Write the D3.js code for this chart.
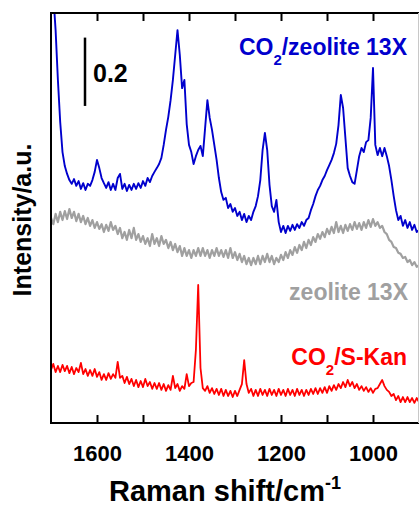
<!DOCTYPE html>
<html><head><meta charset="utf-8">
<script src="https://cdn.jsdelivr.net/npm/d3@7"></script>
<style>body{margin:0;background:#fff}svg{display:block}text{font-family:"Liberation Sans",Arial,sans-serif;font-weight:bold}</style>
</head><body><svg id="c" width="419" height="506"></svg>
<script>
// Raman shift (cm^-1)
const wavenumber = [
1700,1695,1690,1685,1680,1675,1670,1665,1660,1655,1650,1645,1640,1635,1630,1625,1620,1615,1610,1605,
1600,1595,1590,1585,1580,1575,1570,1565,1560,1555,1550,1545,1540,1535,1530,1525,1520,1515,1510,1505,
1500,1495,1490,1485,1480,1475,1470,1465,1460,1455,1450,1445,1440,1435,1430,1425,1420,1415,1410,1405,
1400,1395,1390,1385,1380,1375,1370,1365,1360,1355,1350,1345,1340,1335,1330,1325,1320,1315,1310,1305,
1300,1295,1290,1285,1280,1275,1270,1265,1260,1255,1250,1245,1240,1235,1230,1225,1220,1215,1210,1205,
1200,1195,1190,1185,1180,1175,1170,1165,1160,1155,1150,1145,1140,1135,1130,1125,1120,1115,1110,1105,
1100,1095,1090,1085,1080,1075,1070,1065,1060,1055,1050,1045,1040,1035,1030,1025,1020,1015,1010,1005,
1000,995,990,985,980,975,970,965,960,955,950,945,940,935,930,925,920,915,910,905,
900];
// Intensity (a.u., stacked with offsets as in the figure)
const co2Zeolite = [
1.355,1.253,1.150,1.004,0.881,0.793,0.752,0.729,0.711,0.700,0.714,0.694,0.708,0.685,0.702,0.682,0.700,0.694,0.711,0.735,
0.770,0.746,0.717,0.702,0.688,0.705,0.682,0.700,0.682,0.717,0.729,0.685,0.700,0.679,0.697,0.682,0.700,0.685,0.702,0.688,
0.708,0.694,0.717,0.705,0.723,0.735,0.746,0.758,0.776,0.814,0.858,0.896,0.945,1.004,1.077,1.150,1.077,0.980,1.004,0.875,
0.814,0.793,0.758,0.781,0.799,0.811,0.781,0.863,0.945,0.893,0.858,0.814,0.770,0.717,0.676,0.653,0.659,0.629,0.641,0.618,
0.629,0.606,0.618,0.594,0.612,0.588,0.606,0.594,0.618,0.635,0.664,0.711,0.799,0.849,0.799,0.697,0.635,0.618,0.653,0.588,
0.559,0.577,0.556,0.577,0.562,0.580,0.565,0.582,0.571,0.588,0.577,0.594,0.600,0.623,0.641,0.664,0.682,0.694,0.711,0.723,
0.740,0.755,0.770,0.790,0.817,0.872,0.960,0.922,0.834,0.746,0.723,0.705,0.700,0.740,0.781,0.805,0.793,0.822,0.828,0.893,
1.039,0.814,0.784,0.805,0.781,0.805,0.781,0.752,0.711,0.664,0.623,0.594,0.606,0.577,0.594,0.571,0.588,0.565,0.580,0.559,
0.565];
const zeolite13X = [
0.600,0.582,0.612,0.588,0.618,0.594,0.620,0.597,0.626,0.600,0.618,0.591,0.612,0.588,0.606,0.582,0.600,0.577,0.594,0.571,
0.588,0.568,0.582,0.559,0.580,0.562,0.588,0.565,0.577,0.553,0.571,0.541,0.559,0.536,0.565,0.541,0.571,0.536,0.553,0.530,
0.547,0.524,0.541,0.518,0.553,0.524,0.541,0.518,0.547,0.524,0.536,0.512,0.530,0.506,0.524,0.500,0.518,0.489,0.512,0.489,
0.506,0.483,0.506,0.489,0.512,0.489,0.512,0.489,0.506,0.483,0.506,0.489,0.512,0.489,0.506,0.486,0.506,0.483,0.512,0.483,
0.500,0.477,0.495,0.471,0.489,0.465,0.483,0.462,0.483,0.465,0.489,0.465,0.489,0.471,0.495,0.471,0.489,0.465,0.483,0.471,
0.492,0.477,0.500,0.483,0.506,0.492,0.515,0.498,0.521,0.506,0.530,0.512,0.536,0.521,0.544,0.530,0.553,0.539,0.559,0.544,
0.568,0.553,0.574,0.556,0.588,0.559,0.577,0.556,0.580,0.562,0.582,0.565,0.588,0.568,0.585,0.565,0.588,0.571,0.594,0.574,
0.597,0.577,0.588,0.571,0.577,0.559,0.553,0.536,0.530,0.515,0.512,0.498,0.495,0.483,0.486,0.471,0.477,0.462,0.471,0.457,
0.462];
const co2SKan = [
0.155,0.173,0.149,0.167,0.149,0.170,0.152,0.167,0.146,0.164,0.143,0.161,0.149,0.176,0.143,0.158,0.138,0.155,0.138,0.158,
0.135,0.149,0.126,0.143,0.126,0.146,0.129,0.143,0.132,0.179,0.132,0.138,0.117,0.135,0.114,0.129,0.108,0.126,0.105,0.123,
0.105,0.129,0.108,0.120,0.100,0.117,0.100,0.117,0.097,0.114,0.094,0.111,0.097,0.138,0.102,0.114,0.094,0.108,0.100,0.143,
0.108,0.117,0.120,0.214,0.404,0.161,0.102,0.094,0.108,0.088,0.102,0.085,0.100,0.082,0.100,0.079,0.097,0.079,0.094,0.076,
0.094,0.079,0.097,0.114,0.184,0.114,0.088,0.100,0.079,0.097,0.079,0.100,0.082,0.097,0.079,0.100,0.082,0.097,0.079,0.100,
0.082,0.097,0.079,0.100,0.082,0.097,0.079,0.100,0.082,0.097,0.079,0.097,0.082,0.100,0.085,0.102,0.085,0.102,0.088,0.105,
0.088,0.108,0.094,0.111,0.097,0.114,0.102,0.120,0.105,0.126,0.108,0.120,0.102,0.114,0.097,0.108,0.094,0.105,0.091,0.102,
0.088,0.100,0.102,0.114,0.126,0.108,0.097,0.091,0.079,0.085,0.067,0.079,0.061,0.076,0.061,0.076,0.061,0.073,0.059,0.073,
0.061];
const xTickValues = [1600,1500,1400,1300,1200,1100,1000];
const xTickLabels = [1600,1400,1200,1000];
const scaleBar = {from: 0.928, size: 0.2, label: "0.2"};

const svg = d3.select("#c");
const L = 51, R = 419, T = 13, B = 423;
const x = d3.scaleLinear().domain([1700, 900]).range([L, R]);
const y = d3.scaleLinear().domain([0, 1.2]).range([B, T]);

svg.append("defs").append("clipPath").attr("id","clip")
  .append("rect").attr("x",L).attr("y",T).attr("width",R-L).attr("height",B-T);

const series = [
  {vals: zeolite13X, color: "#a0a0a0", w: 2.2},
  {vals: co2SKan, color: "#ff0000", w: 1.8},
  {vals: co2Zeolite, color: "#0000cd", w: 1.9}
];
const line = d3.line().x((d,i)=>x(wavenumber[i])).y(d=>y(d));
const g = svg.append("g").attr("clip-path","url(#clip)");
series.forEach(s=>{
  g.append("path").datum(s.vals).attr("d", line)
   .attr("fill","none").attr("stroke", s.color).attr("stroke-width",s.w)
   .attr("stroke-linejoin","round");
});

// axes (ticks inward on top and bottom)
const fmt = d => xTickLabels.includes(d) ? d : "";
const axB = svg.append("g").attr("transform",`translate(0,${B})`)
  .call(d3.axisBottom(x).tickValues(xTickValues).tickSizeInner(-8).tickSizeOuter(0).tickFormat(fmt));
const axT = svg.append("g").attr("transform",`translate(0,${T})`)
  .call(d3.axisTop(x).tickValues(xTickValues).tickSizeInner(-8).tickSizeOuter(0).tickFormat(""));
[axB, axT].forEach(a=>{
  a.select(".domain").remove();
  a.selectAll(".tick line").attr("stroke","#000").attr("stroke-width",2);
});
axB.selectAll(".tick text").attr("y",38).attr("dy",0).attr("fill","#000")
  .style("font-size","22px").style("font-weight","bold").style("font-family",'"Liberation Sans",Arial,sans-serif');

// frame
svg.append("rect").attr("x",L).attr("y",T).attr("width",R-L+1).attr("height",B-T)
  .attr("fill","none").attr("stroke","#000").attr("stroke-width",2);
svg.append("line").attr("x1",418.5).attr("x2",418.5).attr("y1",T).attr("y2",B)
  .attr("stroke","#c8c8c8").attr("stroke-width",1);

// scale bar
svg.append("line").attr("x1",85).attr("x2",85)
  .attr("y1",y(scaleBar.from)).attr("y2",y(scaleBar.from+scaleBar.size))
  .attr("stroke","#000").attr("stroke-width",2.5);
svg.append("text").attr("x",93).attr("y",82).style("font-size","25px").text(scaleBar.label);

// series labels
function label(xp, yp, parts, color){
  const t = svg.append("text").attr("x",xp).attr("y",yp).attr("text-anchor","end")
    .attr("fill",color).style("font-size","23px");
  parts.forEach(p=>{
    const ts = t.append("tspan").text(p.t);
    if (p.sub) ts.attr("dy",10).style("font-size","15px");
    if (p.back) ts.attr("dy",-10);
  });
}
label(407, 55, [{t:"CO"},{t:"2",sub:true},{t:"/zeolite 13X",back:true}], "#0000cd");
label(408, 300, [{t:"zeolite 13X"}], "#a0a0a0");
label(407, 365, [{t:"CO"},{t:"2",sub:true},{t:"/S-Kan",back:true}], "#ff0000");

// axis titles
const xt = svg.append("text").attr("x",225).attr("y",501).attr("text-anchor","middle")
  .style("font-size","29px").attr("fill","#000");
xt.append("tspan").text("Raman shift/cm");
xt.append("tspan").attr("dy",-12).style("font-size","18px").text("-1");
svg.append("text").attr("transform","translate(31,220) rotate(-90)").attr("text-anchor","middle")
  .style("font-size","25px").attr("fill","#000").text("Intensity/a.u.");
</script></body></html>
